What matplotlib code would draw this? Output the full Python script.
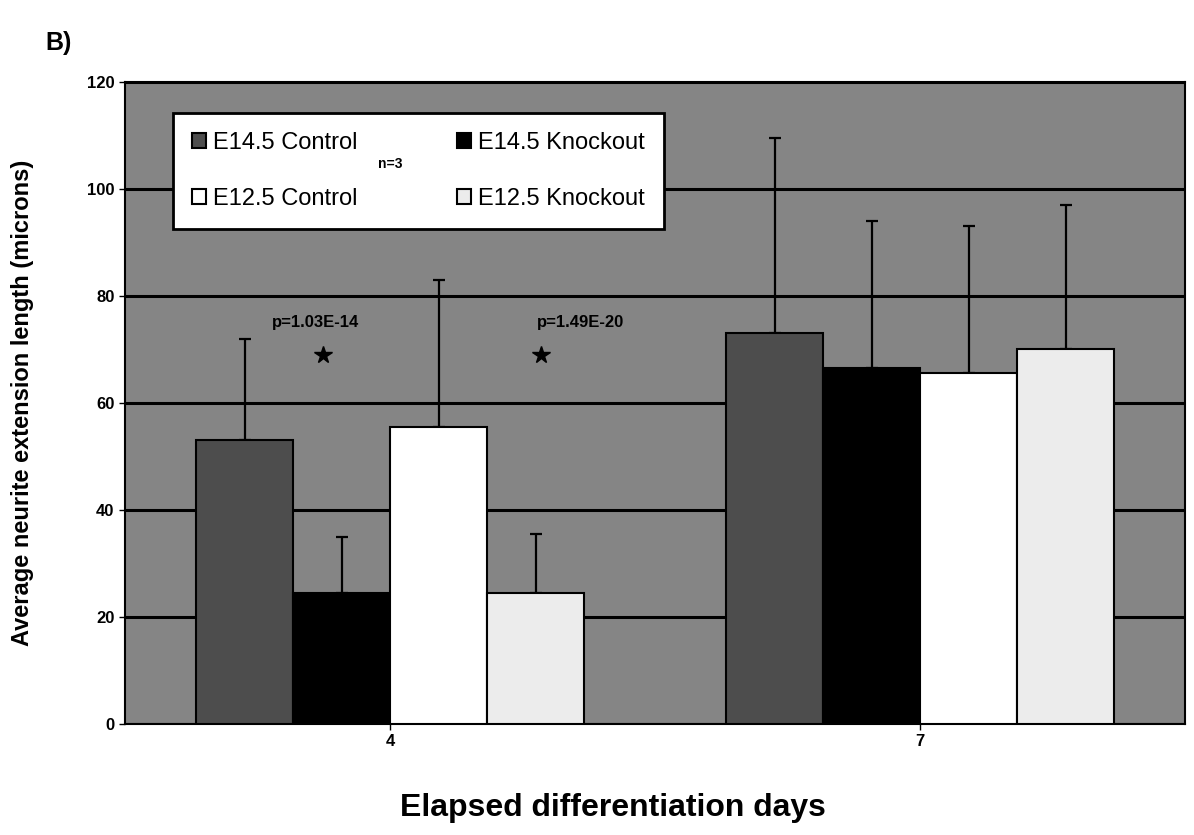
import numpy as np
import matplotlib
matplotlib.use("Agg")
import matplotlib.pyplot as plt

plt.rcParams['font.family'] = ['Liberation Sans', 'DejaVu Sans']

# data
days = ['4', '7']
series = ['E14.5 Control', 'E14.5 Knockout', 'E12.5 Control', 'E12.5 Knockout']
e145_control = [53, 73]
e145_knockout = [24.5, 66.5]
e125_control = [55.5, 65.5]
e125_knockout = [24.5, 70]
e145_control_err = [19, 36.5]
e145_knockout_err = [10.5, 27.5]
e125_control_err = [27.5, 27.5]
e125_knockout_err = [11, 27]
p_labels = ['p=1.03E-14', 'p=1.49E-20']

values = [e145_control, e145_knockout, e125_control, e125_knockout]
errors = [e145_control_err, e145_knockout_err, e125_control_err, e125_knockout_err]
colors = ['#4d4d4d', '#000000', '#ffffff', '#ececec']

fig = plt.figure(figsize=(11.94, 8.35), dpi=100)
ax = fig.add_axes([0.1047, 0.133, 0.8878, 0.769])
ax.set_facecolor('#858585')

x = np.arange(len(days))
w = 0.183
bars = []
for i, (vals, errs, col) in enumerate(zip(values, errors, colors)):
    pos = x + (i - 1.5) * w
    b = ax.bar(pos, vals, w, color=col, edgecolor='black', linewidth=1.5, zorder=3, label=series[i])
    bars.append(b)
    ax.errorbar(pos, vals, yerr=[np.zeros(len(errs)), errs], fmt='none', ecolor='black',
                elinewidth=1.6, capsize=4, capthick=1.6, zorder=2)

ax.set_xlim(-0.5, 1.5)
ax.set_ylim(0, 120)
ax.set_yticks(np.arange(0, 121, 20))
ax.set_xticks(x)
ax.set_xticklabels(days)
ax.yaxis.grid(True, color='black', linewidth=2.2, zorder=1)
ax.set_axisbelow(True)
for s in ax.spines.values():
    s.set_color('black')
    s.set_linewidth(1.5)
ax.tick_params(axis='both', labelsize=12, width=1, length=4)
for lbl in ax.get_xticklabels() + ax.get_yticklabels():
    lbl.set_fontweight('bold')

ax.set_ylabel('Average neurite extension length (microns)', fontsize=17, fontweight='bold')
ax.yaxis.set_label_coords(-0.086, 0.5)
ax.set_xlabel('Elapsed differentiation days', fontsize=23, fontweight='bold')
ax.xaxis.set_label_coords(0.46, -0.108)

# significance annotations
ax.text(-0.14, 75, p_labels[0], fontsize=12, fontweight='bold', ha='center', va='center', zorder=4)
ax.text(0.36, 75, p_labels[1], fontsize=12, fontweight='bold', ha='center', va='center', zorder=4)
ax.plot([-0.126, 0.285], [69, 69], linestyle='none', marker='*', markersize=13, color='black', zorder=4)

handles = [bars[0], bars[2], bars[1], bars[3]]
labels = [series[0], series[2], series[1], series[3]]
leg = ax.legend(handles, labels, ncol=2, loc='upper left', bbox_to_anchor=(0.034, 0.97),
                fontsize=17, frameon=True, fancybox=False, edgecolor='black',
                handlelength=0.6, handleheight=0.6, handletextpad=0.3, columnspacing=4.2,
                labelspacing=1.45, borderpad=0.8, framealpha=1)
leg.get_frame().set_linewidth(2)
ax.text(0.25, 0.872, 'n=3', transform=ax.transAxes, fontsize=10, fontweight='bold',
        ha='center', va='center', zorder=6)

fig.text(0.038, 0.94, 'B)', fontsize=18, fontweight='bold')

fig.savefig('out.png', dpi=100)
